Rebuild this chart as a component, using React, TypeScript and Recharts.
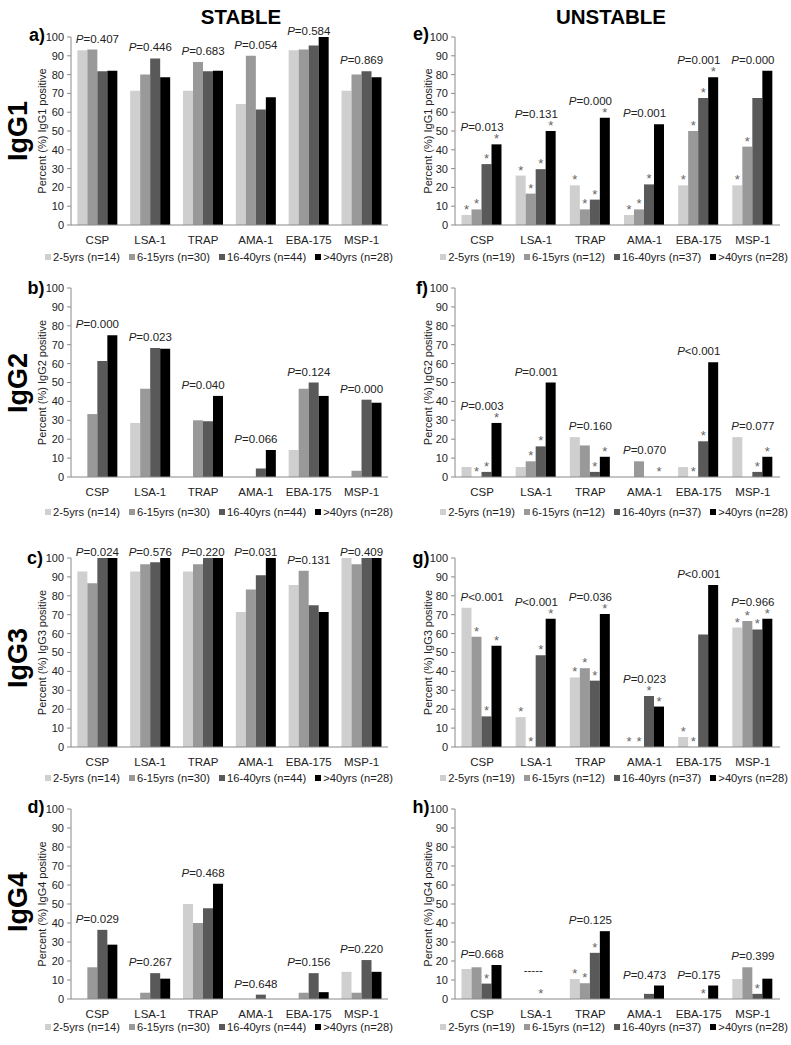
import { BarChart, Bar, XAxis, YAxis, ReferenceDot, LabelList, Legend } from 'recharts';

const antigens = ['CSP', 'LSA-1', 'TRAP', 'AMA-1', 'EBA-175', 'MSP-1'];
const groupsStable = ['2-5yrs (n=14)', '6-15yrs (n=30)', '16-40yrs (n=44)', '>40yrs (n=28)'];
const groupsUnstable = ['2-5yrs (n=19)', '6-15yrs (n=12)', '16-40yrs (n=37)', '>40yrs (n=28)'];
const yTicks = [0, 10, 20, 30, 40, 50, 60, 70, 80, 90, 100];

// values: one row per age group, one column per antigen (percent positive)
const igg1Stable = [
  [92.9, 71.4, 71.4, 64.3, 92.9, 71.4],
  [93.3, 80.0, 86.7, 90.0, 93.3, 80.0],
  [81.8, 88.6, 81.8, 61.4, 95.5, 81.8],
  [82.1, 78.6, 82.1, 67.9, 100, 78.6],
];
const igg2Stable = [
  [0, 28.6, 0, 0, 14.3, 0],
  [33.3, 46.7, 30.0, 0, 46.7, 3.3],
  [61.4, 68.2, 29.5, 4.5, 50.0, 40.9],
  [75.0, 67.9, 42.9, 14.3, 42.9, 39.3],
];
const igg3Stable = [
  [92.9, 92.9, 92.9, 71.4, 85.7, 100],
  [86.7, 96.7, 96.7, 83.3, 93.3, 96.7],
  [100, 97.7, 100, 90.9, 75.0, 100],
  [100, 100, 100, 100, 71.4, 100],
];
const igg4Stable = [
  [0, 0, 50.0, 0, 0, 14.3],
  [16.7, 3.3, 40.0, 0, 3.3, 3.3],
  [36.4, 13.6, 47.7, 2.3, 13.6, 20.5],
  [28.6, 10.7, 60.7, 0, 3.6, 14.3],
];
const igg1Unstable = [
  [5.3, 26.3, 21.1, 5.3, 21.1, 21.1],
  [8.3, 16.7, 8.3, 8.3, 50.0, 41.7],
  [32.4, 29.7, 13.5, 21.6, 67.6, 67.6],
  [42.9, 50.0, 57.1, 53.6, 78.6, 82.1],
];
const igg2Unstable = [
  [5.3, 5.3, 21.1, 0, 5.3, 21.1],
  [0, 8.3, 16.7, 8.3, 0, 0],
  [2.7, 16.2, 2.7, 0, 18.9, 2.7],
  [28.6, 50.0, 10.7, 0, 60.7, 10.7],
];
const igg3Unstable = [
  [73.7, 15.8, 36.8, 0, 5.3, 63.2],
  [58.3, 0, 41.7, 0, 0, 66.7],
  [16.2, 48.6, 35.1, 27.0, 59.5, 62.2],
  [53.6, 67.9, 70.4, 21.4, 85.7, 67.9],
];
const igg4Unstable = [
  [15.8, 0, 10.5, 0, 0, 10.5],
  [16.7, 0, 8.3, 0, 0, 16.7],
  [8.1, 0, 24.3, 2.7, 0, 2.7],
  [17.9, 0, 35.7, 7.1, 7.1, 10.7],
];

// asterisks (significant vs stable group)
const noStars = [
  [0, 0, 0, 0, 0, 0],
  [0, 0, 0, 0, 0, 0],
  [0, 0, 0, 0, 0, 0],
  [0, 0, 0, 0, 0, 0],
];
const starsE = [
  [1, 1, 1, 1, 1, 1],
  [1, 1, 1, 1, 1, 1],
  [1, 1, 1, 1, 1, 0],
  [1, 1, 1, 0, 1, 0],
];
const starsF = [
  [0, 0, 0, 0, 0, 0],
  [1, 1, 0, 0, 1, 0],
  [1, 1, 1, 0, 1, 1],
  [1, 0, 1, 1, 0, 1],
];
const starsG = [
  [0, 1, 1, 1, 1, 1],
  [1, 1, 1, 1, 1, 1],
  [1, 1, 1, 1, 0, 1],
  [1, 1, 1, 1, 0, 1],
];
const starsH = [
  [0, 0, 1, 0, 0, 0],
  [0, 0, 1, 0, 0, 0],
  [1, 1, 1, 0, 1, 1],
  [0, 0, 0, 0, 0, 0],
];

const pA = ['=0.407', '=0.446', '=0.683', '=0.054', '=0.584', '=0.869'];
const pB = ['=0.000', '=0.023', '=0.040', '=0.066', '=0.124', '=0.000'];
const pC = ['=0.024', '=0.576', '=0.220', '=0.031', '=0.131', '=0.409'];
const pD = ['=0.029', '=0.267', '=0.468', '=0.648', '=0.156', '=0.220'];
const pE = ['=0.013', '=0.131', '=0.000', '=0.001', '=0.001', '=0.000'];
const pF = ['=0.003', '=0.001', '=0.160', '=0.070', '<0.001', '=0.077'];
const pG = ['<0.001', '<0.001', '=0.036', '=0.023', '<0.001', '=0.966'];
const pH = ['=0.668', '-----', '=0.125', '=0.473', '=0.175', '=0.399'];

const COLORS = ['#cfcfcf', '#999999', '#595959', '#000000'];
const AXIS = '#8a8a8a';
const TXT = '#222';
const MT = 20;

const ROWS = [
  { top: 37, bottom: 225, legend: 257 },
  { top: 288, bottom: 477, legend: 512 },
  { top: 558, bottom: 747, legend: 778 },
  { top: 809, bottom: 999, legend: 1027 },
];
const COLS = [
  { left: 0, width: 392, ml: 31, mr: 4, yOff: 11, legendLeft: 40, align: 'center' },
  { left: 392, width: 399, ml: 23, mr: 11, yOff: 13, legendLeft: 38, align: 'right' },
];

const Star = (props: any) => {
  const vb = props.viewBox || props;
  if (!props.value) return null;
  return (
    <text x={vb.x + vb.width / 2} y={vb.y - 1} textAnchor="middle" fontSize={13} fill="#666">
      *
    </text>
  );
};

const PLabel = (props: any) => {
  const vb = props.viewBox || {};
  const y = Math.max(vb.y - props.pad, props.plotTop - 2);
  const t: string = props.text;
  if (t.startsWith('-')) {
    return (
      <text x={vb.x - 3} y={y - 12} textAnchor="middle" fontSize={11.5} fill={TXT}>
        {t}
      </text>
    );
  }
  return (
    <text x={vb.x} y={y} textAnchor="middle" fontSize={11.5} fill={TXT}>
      <tspan fontStyle="italic">P</tspan>
      <tspan>{t}</tspan>
    </text>
  );
};

const makeLegend = (groups: string[], align: string) => () => (
  <div style={{ whiteSpace: 'nowrap', textAlign: align as any, fontSize: 11.2, lineHeight: '16px', color: TXT }}>
    {groups.map((g, i) => (
      <span key={g} style={{ marginLeft: i ? 9 : 0 }}>
        <span
          style={{
            display: 'inline-block',
            width: 6,
            height: 6,
            background: COLORS[i],
            marginRight: 2,
            position: 'relative',
            top: -1,
          }}
        />
        {g}
      </span>
    ))}
  </div>
);

function Panel({ row, col, values, stars, pvals, groups, igg }: any) {
  const r = ROWS[row];
  const c = COLS[col];
  const hx = r.legend - 8 - r.bottom;
  const height = MT + (r.bottom - r.top) + hx + 16;
  const data = antigens.map((name, i) => ({
    name,
    s0: values[0][i],
    s1: values[1][i],
    s2: values[2][i],
    s3: values[3][i],
    t0: stars[0][i],
    t1: stars[1][i],
    t2: stars[2][i],
    t3: stars[3][i],
  }));

  return (
    <div style={{ position: 'absolute', left: c.left, top: r.top - MT }}>
      <BarChart
        width={c.width}
        height={height}
        data={data}
        margin={{ top: MT, right: c.mr, left: c.ml, bottom: 0 }}
        barCategoryGap="12%"
        barGap={0}
      >
        <XAxis
          xAxisId="edge"
          type="number"
          domain={[0, 6]}
          allowDataOverflow
          ticks={[0, 1, 2, 3, 4, 5, 6]}
          tick={false}
          tickSize={4}
          axisLine={false}
          tickLine={{ stroke: AXIS }}
          height={0}
        />
        <XAxis
          dataKey="name"
          interval={0}
          tickSize={0}
          tickMargin={11}
          height={hx}
          axisLine={{ stroke: AXIS }}
          tickLine={false}
          tick={{ fontSize: 11.5, fill: TXT }}
        />
        <XAxis
          xAxisId="top"
          orientation="top"
          type="number"
          domain={[0, 1]}
          height={0}
          tick={false}
          tickLine={false}
          axisLine={{ stroke: AXIS }}
        />
        <YAxis
          domain={[0, 100]}
          ticks={yTicks}
          interval={0}
          width={40}
          tickSize={4}
          tickMargin={3}
          axisLine={{ stroke: AXIS }}
          tickLine={{ stroke: AXIS }}
          tick={{ fontSize: 11, fill: TXT }}
          label={{
            value: `Percent (%) ${igg} positive`,
            angle: -90,
            position: 'insideLeft',
            offset: c.yOff,
            style: { textAnchor: 'middle' },
            fontSize: 11,
            fill: TXT,
          }}
        />
        <YAxis
          yAxisId="right"
          orientation="right"
          domain={[0, 100]}
          width={0}
          tick={false}
          tickLine={false}
          axisLine={{ stroke: AXIS }}
        />
        <Legend
          verticalAlign="bottom"
          content={makeLegend(groups, c.align)}
          wrapperStyle={{ left: c.legendLeft, width: 358, height: 16 }}
        />
        {[0, 1, 2, 3].map((k) => (
          <Bar
            key={k}
            dataKey={`s${k}`}
            name={groups[k]}
            fill={COLORS[k]}
            minPointSize={(v: number, i: number) => (v === 0 && stars[k][i] ? 0.01 : 0)}
            isAnimationActive={false}
          >
            <LabelList dataKey={`t${k}`} content={<Star />} />
          </Bar>
        ))}
        {antigens.map((name, i) => {
          const vals = [0, 1, 2, 3].map((k) => values[k][i]);
          const max = Math.max(...vals);
          const starOnMax = [0, 1, 2, 3].some((k) => values[k][i] === max && stars[k][i]);
          return (
            <ReferenceDot
              key={name}
              x={name}
              y={max}
              r={0}
              fill="none"
              stroke="none"
              label={<PLabel text={pvals[i]} pad={starOnMax ? 13 : 7} plotTop={MT} />}
            />
          );
        })}
      </BarChart>
    </div>
  );
}

const panels = [
  { row: 0, col: 0, values: igg1Stable, stars: noStars, pvals: pA, igg: 'IgG1', letter: 'a)' },
  { row: 1, col: 0, values: igg2Stable, stars: noStars, pvals: pB, igg: 'IgG2', letter: 'b)' },
  { row: 2, col: 0, values: igg3Stable, stars: noStars, pvals: pC, igg: 'IgG3', letter: 'c)' },
  { row: 3, col: 0, values: igg4Stable, stars: noStars, pvals: pD, igg: 'IgG4', letter: 'd)' },
  { row: 0, col: 1, values: igg1Unstable, stars: starsE, pvals: pE, igg: 'IgG1', letter: 'e)' },
  { row: 1, col: 1, values: igg2Unstable, stars: starsF, pvals: pF, igg: 'IgG2', letter: 'f)' },
  { row: 2, col: 1, values: igg3Unstable, stars: starsG, pvals: pG, igg: 'IgG3', letter: 'g)' },
  { row: 3, col: 1, values: igg4Unstable, stars: starsH, pvals: pH, igg: 'IgG4', letter: 'h)' },
];

const letterPos = [
  [37, 35], [36, 288], [35, 558], [36, 807],
  [421, 34], [422, 288], [421, 558], [421, 807],
];
const rowTitleY = [131, 383, 658, 902];

const centered = (x: number, y: number, extra: any = {}) => ({
  position: 'absolute' as const,
  left: x,
  top: y,
  transform: 'translate(-50%, -50%)',
  lineHeight: 1,
  whiteSpace: 'nowrap' as const,
  color: '#000',
  ...extra,
});

export default function App() {
  return (
    <div
      style={{
        position: 'absolute',
        left: 0,
        top: 0,
        width: 791,
        height: 1045,
        background: '#fff',
        overflow: 'hidden',
        fontFamily: '"Liberation Sans", Arial, sans-serif',
      }}
    >
      {panels.map((p, i) => (
        <Panel
          key={i}
          row={p.row}
          col={p.col}
          values={p.values}
          stars={p.stars}
          pvals={p.pvals}
          igg={p.igg}
          groups={p.col === 0 ? groupsStable : groupsUnstable}
        />
      ))}
      <div style={centered(241, 17, { fontSize: 20.5, fontWeight: 'bold' })}>STABLE</div>
      <div style={centered(611, 17, { fontSize: 20.5, fontWeight: 'bold' })}>UNSTABLE</div>
      {panels.map((p, i) => (
        <div key={p.letter} style={centered(letterPos[i][0], letterPos[i][1], { fontSize: 18, fontWeight: 'bold' })}>
          {p.letter}
        </div>
      ))}
      {['IgG1', 'IgG2', 'IgG3', 'IgG4'].map((t, i) => (
        <div
          key={t}
          style={centered(18, rowTitleY[i], {
            fontSize: 27,
            fontWeight: 'bold',
            transform: 'translate(-50%, -50%) rotate(-90deg)',
          })}
        >
          {t}
        </div>
      ))}
    </div>
  );
}
